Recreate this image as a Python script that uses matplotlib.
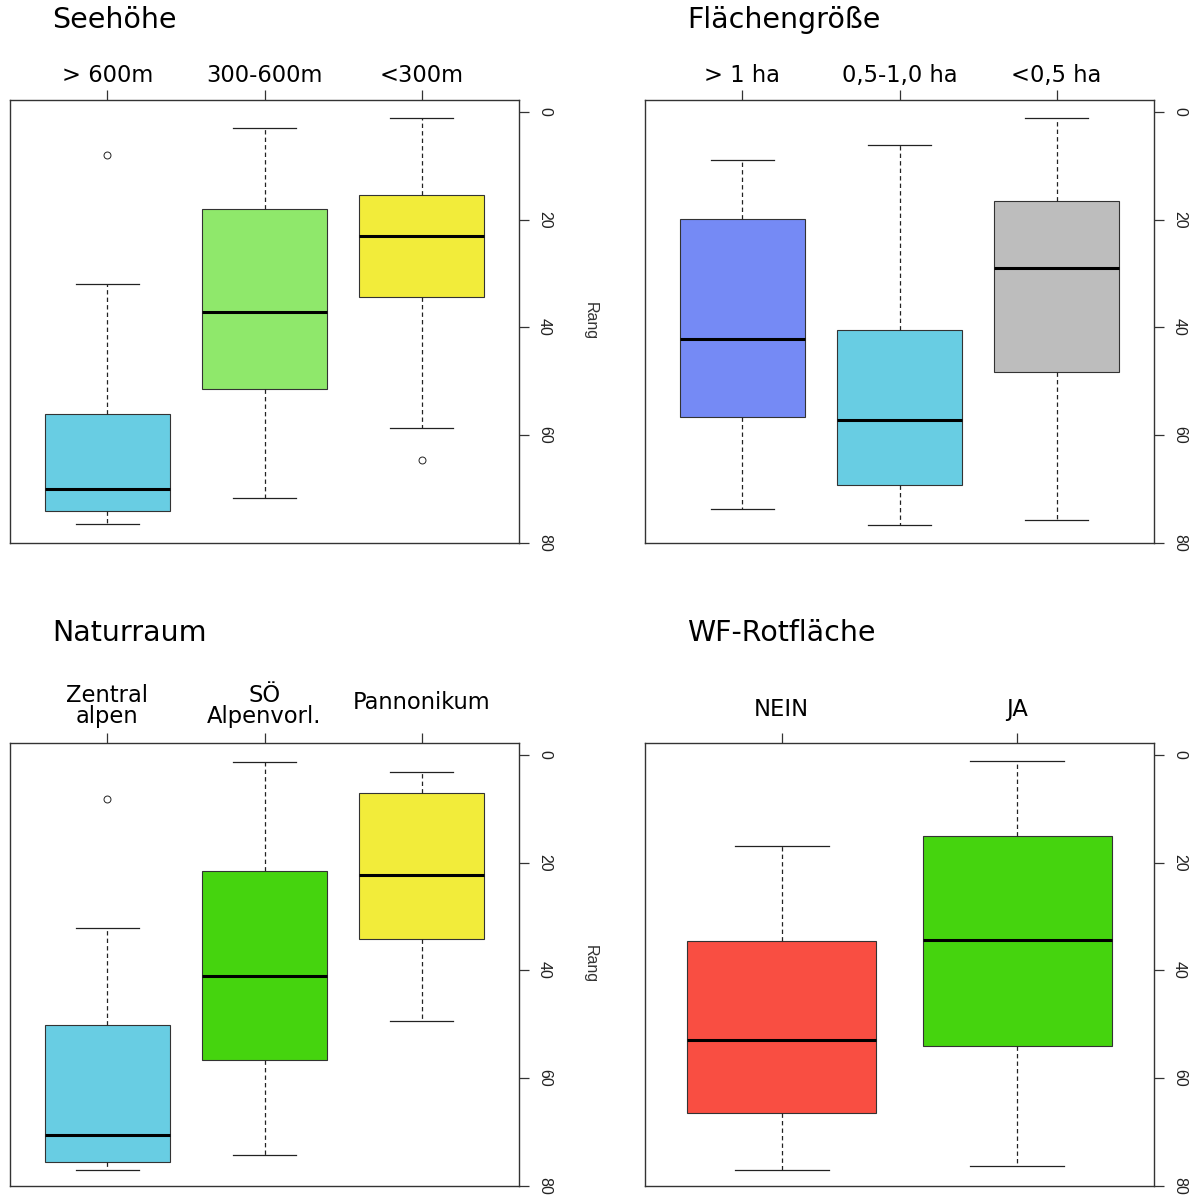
import matplotlib
matplotlib.use('Agg')
from matplotlib import pyplot as plt

plt.rcParams['font.family'] = ['DejaVu Sans']

# panel 1: Seehoehe
see_labels = ['> 600m', '300-600m', '<300m']
see_lo = [31.9, 3.0, 1.1]
see_q1 = [56.1, 18.0, 15.4]
see_med = [70.0, 37.2, 23.0]
see_q3 = [74.1, 51.5, 34.3]
see_hi = [76.5, 71.7, 58.7]
see_fliers = [[8.0], [], [64.6]]
see_colors = ['#68CDE3', '#8FE86B', '#F2EC3A']

# panel 2: Flaechengroesse
fl_labels = ['> 1 ha', '0,5-1,0 ha', '<0,5 ha']
fl_lo = [8.9, 6.1, 1.1]
fl_q1 = [19.8, 40.4, 16.5]
fl_med = [42.2, 57.2, 28.9]
fl_q3 = [56.7, 69.3, 48.3]
fl_hi = [73.7, 76.7, 75.7]
fl_fliers = [[], [], []]
fl_colors = ['#758AF5', '#68CDE3', '#BDBDBD']

# panel 3: Naturraum
nr_labels = ['Zentral\nalpen', 'SÖ\nAlpenvorl.', 'Pannonikum']
nr_lo = [32.2, 1.3, 3.2]
nr_q1 = [50.2, 21.6, 7.1]
nr_med = [70.6, 41.1, 22.3]
nr_q3 = [75.5, 56.7, 34.2]
nr_hi = [77.1, 74.2, 49.3]
nr_fliers = [[8.2], [], []]
nr_colors = ['#68CDE3', '#45D40E', '#F2EC3A']

# panel 4: WF-Rotflaeche
wf_labels = ['NEIN', 'JA']
wf_lo = [16.9, 1.1]
wf_q1 = [34.6, 15.1]
wf_med = [53.0, 34.4]
wf_q3 = [66.4, 54.1]
wf_hi = [77.0, 76.2]
wf_fliers = [[], []]
wf_colors = ['#F94E42', '#45D40E']

W, H = 1201, 1196
fig = plt.figure(figsize=(W / 100, H / 100), dpi=100)


def panel(rect, title, labels, lo, q1, med, q3, hi, fliers, colors,
          label_off, rang, title_y):
    l, t, w, h = rect
    ax = fig.add_axes([l / W, 1 - (t + h) / H, w / W, h / H])
    stats = []
    for i in range(len(labels)):
        stats.append(dict(med=med[i], q1=q1[i], q3=q3[i], whislo=lo[i],
                          whishi=hi[i], fliers=fliers[i]))
    pos = list(range(1, len(labels) + 1))
    bp = ax.bxp(stats, positions=pos, widths=0.8, patch_artist=True,
                capwidths=0.4,
                boxprops=dict(edgecolor='#333333', linewidth=0.8),
                whiskerprops=dict(color='#222222', linewidth=0.9,
                                  linestyle=(0, (3.5, 2.5))),
                capprops=dict(color='#222222', linewidth=0.9),
                medianprops=dict(color='black', linewidth=2.2),
                flierprops=dict(marker='o', markerfacecolor='none',
                                markeredgecolor='#222222', markersize=5,
                                markeredgewidth=0.7))
    for patch, c in zip(bp['boxes'], colors):
        patch.set_facecolor(c)
    n = len(labels)
    ax.set_xlim(0.5 - 0.04 * n, n + 0.5 + 0.04 * n)
    ax.set_ylim(80, -2.2)
    ax.xaxis.tick_top()
    ax.set_xticks(pos)
    ax.set_xticklabels([''] * n)
    ax.yaxis.tick_right()
    ax.set_yticks([0, 20, 40, 60, 80])
    ax.set_yticklabels(['0', '20', '40', '60', '80'], rotation=-90,
                       va='center', fontsize=11.5, color='#222222',
                       family='Liberation Sans')
    ax.tick_params(axis='both', direction='out', length=7, width=0.9,
                   color='#333333', pad=6)
    for s in ax.spines.values():
        s.set_linewidth(1.0)
        s.set_color('#333333')
    for p, lab, off in zip(pos, labels, label_off):
        ax.annotate(lab, xy=(p, 1), xycoords=('data', 'axes fraction'),
                    xytext=(0, off), textcoords='offset points',
                    ha='center', va='center', fontsize=16.3, linespacing=0.9)
    if rang:
        ax.text(1 + 71 / w, 0.5, 'Rang', transform=ax.transAxes,
                rotation=-90, ha='center', va='center', fontsize=11.5,
                color='#333333', family='Liberation Sans')
    fig.text((l + 42) / W, 1 - title_y / H, title, fontsize=20.5,
             ha='left', va='center')
    return ax


panel((10, 100, 509, 443), 'Seehöhe', see_labels, see_lo, see_q1, see_med,
      see_q3, see_hi, see_fliers, see_colors, [18, 18, 18], True, 20)
panel((645, 100, 509, 443), 'Flächengröße', fl_labels, fl_lo, fl_q1, fl_med,
      fl_q3, fl_hi, fl_fliers, fl_colors, [17.3, 17.3, 17.3], False, 20)
panel((10, 743, 509, 443), 'Naturraum', nr_labels, nr_lo, nr_q1, nr_med,
      nr_q3, nr_hi, nr_fliers, nr_colors, [26.6, 26.6, 29.5], True, 633)
panel((645, 743, 509, 443), 'WF-Rotfläche', wf_labels, wf_lo, wf_q1, wf_med,
      wf_q3, wf_hi, wf_fliers, wf_colors, [23.8, 23.8], False, 633)

fig.savefig('out.png', dpi=100)
